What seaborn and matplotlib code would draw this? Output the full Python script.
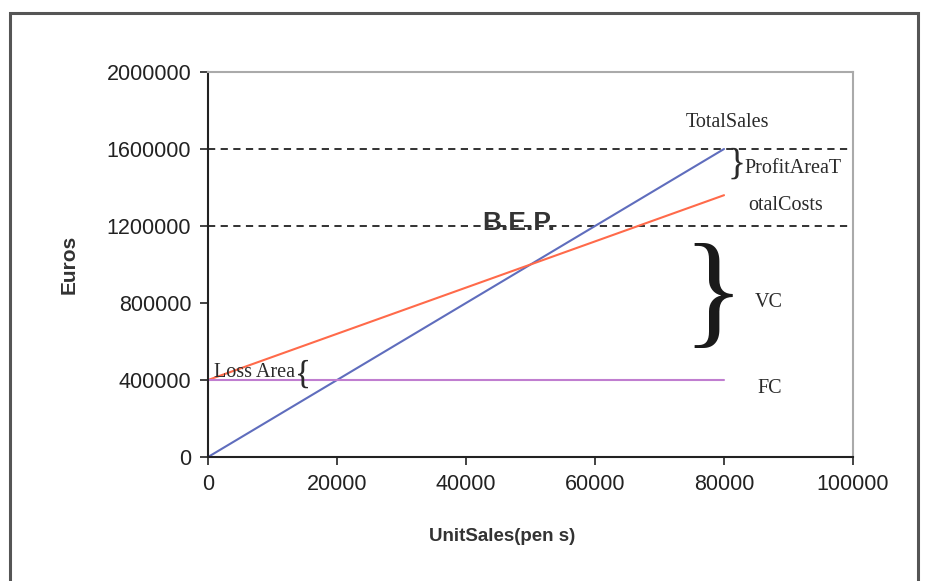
import matplotlib
matplotlib.use("Agg")
import matplotlib.pyplot as plt
from matplotlib.patches import Rectangle
import seaborn as sns
import pandas as pd

# ---- data ----
units = [0, 80000]
total_sales = [0, 1600000]
total_costs = [400000, 1360000]
fixed_costs = [400000, 400000]
ref_levels = [1600000, 1200000]
x_ticks = [0, 20000, 40000, 60000, 80000, 100000]
y_ticks = [0, 400000, 800000, 1200000, 1600000, 2000000]

sns.set_style("white")
plt.rcParams['font.family'] = ['Liberation Sans', 'DejaVu Sans']

df = pd.DataFrame({
    "units": units * 3,
    "value": total_sales + total_costs + fixed_costs,
    "series": ["Total Sales"] * 2 + ["Total Costs"] * 2 + ["Fixed Costs"] * 2,
})
palette = {"Total Sales": "#5f6dbd", "Total Costs": "#ff6a4a", "Fixed Costs": "#c07ed0"}

fig = plt.figure(figsize=(9.25, 5.81), dpi=100)
ax = fig.add_axes([0.2249, 0.2134, 0.6973, 0.6627])

for lvl in ref_levels:
    ax.axhline(lvl, color="#222222", lw=1.3, ls=(0, (4, 3)), zorder=1)

sns.lineplot(data=df, x="units", y="value", hue="series", palette=palette,
             lw=1.5, ax=ax, legend=False, zorder=2)

ax.set_xlim(0, 100000)
ax.set_ylim(0, 2000000)
ax.set_xticks(x_ticks)
ax.set_yticks(y_ticks)
ax.set_xticklabels([str(v) for v in x_ticks], fontsize=15.5, color="#222222")
ax.set_yticklabels([str(v) for v in y_ticks], fontsize=15.5, color="#222222")
ax.tick_params(axis="both", direction="out", length=6, width=1.2, color="#222222",
               bottom=True, left=True, pad=6)

for s in ("left", "bottom"):
    ax.spines[s].set_color("#222222")
    ax.spines[s].set_linewidth(1.5)
for s in ("top", "right"):
    ax.spines[s].set_color("#aaaaaa")
    ax.spines[s].set_linewidth(1.5)

ax.set_ylabel("Euros", fontsize=15, fontweight="bold", color="#333333", labelpad=20)
ax.set_xlabel("UnitSales(pen s)", fontsize=13.5, fontweight="bold", color="#333333")
ax.xaxis.set_label_coords(0.4565, -0.185)

serif = ["Liberation Serif", "DejaVu Serif"]
tc = "#2a2a2a"
ax.text(48200, 1215000, "B.E.P.", fontsize=19, fontweight="bold", color="#333333",
        ha="center", va="center", zorder=3)
ax.text(80600, 1740000, "TotalSales", fontsize=14.5, family=serif, color=tc,
        ha="center", va="center")
ax.text(80600, 1520000, "}", fontsize=27, family=serif, color=tc, ha="left", va="center")
ax.text(83200, 1500000, "ProfitAreaT", fontsize=14.5, family=serif, color=tc,
        ha="left", va="center")
ax.text(83800, 1305000, "otalCosts", fontsize=14.5, family=serif, color=tc,
        ha="left", va="center")
ax.text(78300, 815000, "}", fontsize=92, family=serif, color="#1a1a1a",
        ha="center", va="center")
ax.text(86900, 805000, "VC", fontsize=14.5, family=serif, color=tc, ha="center", va="center")
ax.text(87100, 358000, "FC", fontsize=14.5, family=serif, color=tc, ha="center", va="center")
ax.text(1000, 440000, "Loss Area", fontsize=14.5, family=serif, color=tc,
        ha="left", va="center")
ax.text(13500, 430000, "{", fontsize=24, family=serif, color=tc, ha="left", va="center")

fig.patches.append(Rectangle((0.0108, -0.05), 0.9816, 0.9776 + 0.05, transform=fig.transFigure,
                             fill=False, edgecolor="#555555", lw=2.2))

fig.savefig("out.png", dpi=100)
